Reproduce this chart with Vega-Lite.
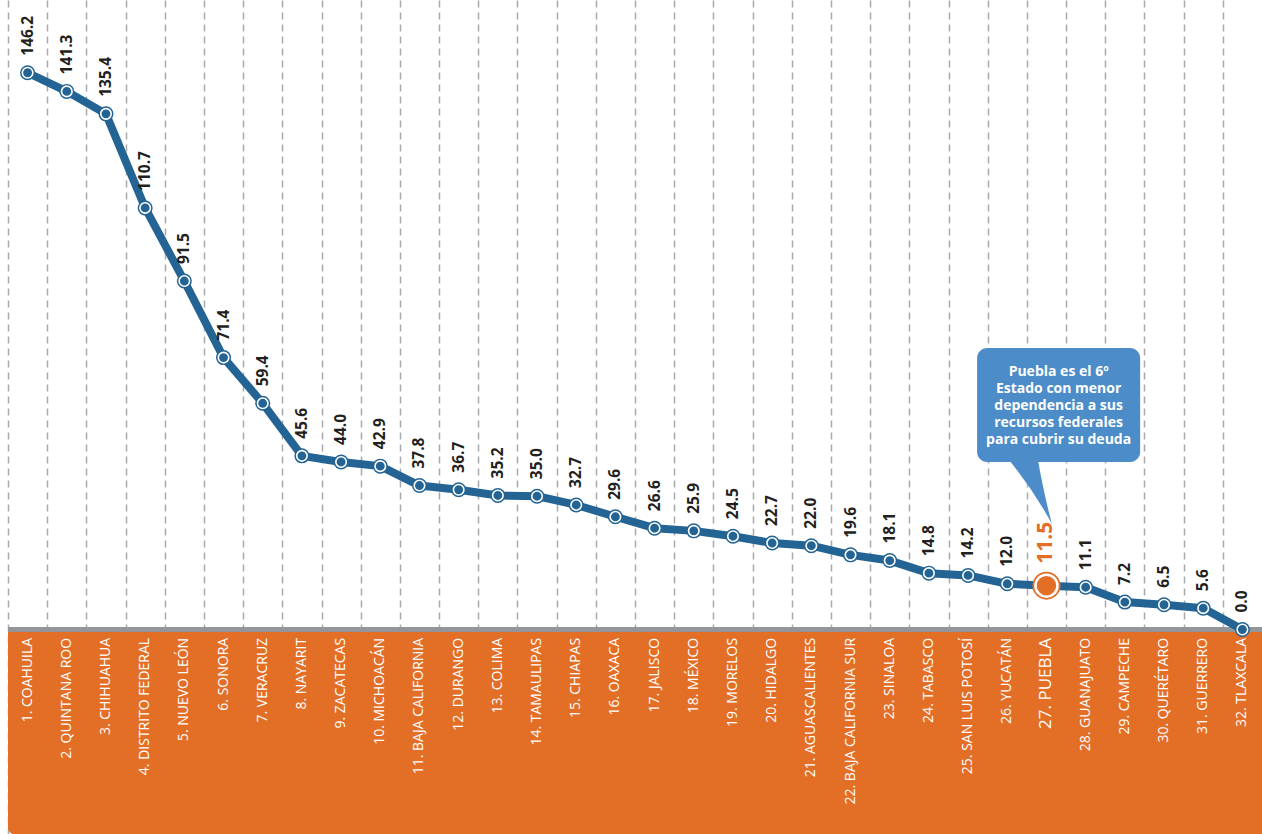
{
  "$schema": "https://vega.github.io/schema/vega-lite/v6.json",
  "width": 1254,
  "height": 834,
  "autosize": {"type": "none"},
  "padding": {"left": 8, "top": 0, "right": 0, "bottom": 0},
  "background": "white",
  "config": {"view": {"stroke": null}},
  "datasets": {
    "states": [
      {"rank": 1, "estado": "COAHUILA", "label": "1. COAHUILA", "value": 146.2},
      {"rank": 2, "estado": "QUINTANA ROO", "label": "2. QUINTANA ROO", "value": 141.3},
      {"rank": 3, "estado": "CHIHUAHUA", "label": "3. CHIHUAHUA", "value": 135.4},
      {"rank": 4, "estado": "DISTRITO FEDERAL", "label": "4. DISTRITO FEDERAL", "value": 110.7},
      {"rank": 5, "estado": "NUEVO LEÓN", "label": "5. NUEVO LEÓN", "value": 91.5},
      {"rank": 6, "estado": "SONORA", "label": "6. SONORA", "value": 71.4},
      {"rank": 7, "estado": "VERACRUZ", "label": "7. VERACRUZ", "value": 59.4},
      {"rank": 8, "estado": "NAYARIT", "label": "8. NAYARIT", "value": 45.6},
      {"rank": 9, "estado": "ZACATECAS", "label": "9. ZACATECAS", "value": 44.0},
      {"rank": 10, "estado": "MICHOACÁN", "label": "10. MICHOACÁN", "value": 42.9},
      {"rank": 11, "estado": "BAJA CALIFORNIA", "label": "11. BAJA CALIFORNIA", "value": 37.8},
      {"rank": 12, "estado": "DURANGO", "label": "12. DURANGO", "value": 36.7},
      {"rank": 13, "estado": "COLIMA", "label": "13. COLIMA", "value": 35.2},
      {"rank": 14, "estado": "TAMAULIPAS", "label": "14. TAMAULIPAS", "value": 35.0},
      {"rank": 15, "estado": "CHIAPAS", "label": "15. CHIAPAS", "value": 32.7},
      {"rank": 16, "estado": "OAXACA", "label": "16. OAXACA", "value": 29.6},
      {"rank": 17, "estado": "JALISCO", "label": "17. JALISCO", "value": 26.6},
      {"rank": 18, "estado": "MÉXICO", "label": "18. MÉXICO", "value": 25.9},
      {"rank": 19, "estado": "MORELOS", "label": "19. MORELOS", "value": 24.5},
      {"rank": 20, "estado": "HIDALGO", "label": "20. HIDALGO", "value": 22.7},
      {"rank": 21, "estado": "AGUASCALIENTES", "label": "21. AGUASCALIENTES", "value": 22.0},
      {"rank": 22, "estado": "BAJA CALIFORNIA SUR", "label": "22. BAJA CALIFORNIA SUR", "value": 19.6},
      {"rank": 23, "estado": "SINALOA", "label": "23. SINALOA", "value": 18.1},
      {"rank": 24, "estado": "TABASCO", "label": "24. TABASCO", "value": 14.8},
      {"rank": 25, "estado": "SAN LUIS POTOSÍ", "label": "25. SAN LUIS POTOSÍ", "value": 14.2},
      {"rank": 26, "estado": "YUCATÁN", "label": "26. YUCATÁN", "value": 12.0},
      {"rank": 27, "estado": "PUEBLA", "label": "27. PUEBLA", "value": 11.5},
      {"rank": 28, "estado": "GUANAJUATO", "label": "28. GUANAJUATO", "value": 11.1},
      {"rank": 29, "estado": "CAMPECHE", "label": "29. CAMPECHE", "value": 7.2},
      {"rank": 30, "estado": "QUERÉTARO", "label": "30. QUERÉTARO", "value": 6.5},
      {"rank": 31, "estado": "GUERRERO", "label": "31. GUERRERO", "value": 5.6},
      {"rank": 32, "estado": "TLAXCALA", "label": "32. TLAXCALA", "value": 0.0}
    ]
  },
  "layer": [
    {
      "data": {"name": "states"},
      "mark": {"type": "rule", "opacity": 0},
      "encoding": {
        "x": {
          "field": "rank", "type": "quantitative",
          "scale": {"domain": [0.5, 32.5], "nice": false, "zero": false},
          "axis": {
            "values": [0.5, 1.5, 2.5, 3.5, 4.5, 5.5, 6.5, 7.5, 8.5, 9.5, 10.5, 11.5, 12.5, 13.5, 14.5, 15.5, 16.5, 17.5, 18.5, 19.5, 20.5, 21.5, 22.5, 23.5, 24.5, 25.5, 26.5, 27.5, 28.5, 29.5, 30.5, 31.5],
            "grid": true, "gridDash": [7, 5], "gridColor": "#a7a9ac", "gridWidth": 1.5,
            "labels": false, "ticks": false, "domain": false, "title": null
          }
        },
        "y": {
          "field": "value", "type": "quantitative",
          "scale": {"domain": [-53.7, 165.3], "nice": false, "zero": false},
          "axis": null
        }
      }
    },
    {
      "data": {"values": [{}]},
      "mark": {"type": "rect", "color": "#e36e26", "cornerRadiusBottomLeft": 6},
      "encoding": {
        "x": {"datum": 0.5, "type": "quantitative"},
        "x2": {"datum": 32.5},
        "y": {"datum": -53.7, "type": "quantitative"},
        "y2": {"datum": -0.66}
      }
    },
    {
      "data": {"values": [{}]},
      "mark": {"type": "rule", "color": "#939598", "strokeWidth": 5},
      "encoding": {
        "x": {"datum": 0.5, "type": "quantitative"},
        "x2": {"datum": 32.5},
        "y": {"datum": 0, "type": "quantitative"}
      }
    },
    {
      "data": {"name": "states"},
      "mark": {"type": "line", "color": "#236494", "strokeWidth": 8, "strokeJoin": "round"},
      "encoding": {
        "x": {"field": "rank", "type": "quantitative"},
        "y": {"field": "value", "type": "quantitative"}
      }
    },
    {
      "data": {"name": "states"},
      "transform": [{"filter": "datum.estado !== 'PUEBLA'"}],
      "mark": {"type": "point", "shape": "circle", "filled": true, "opacity": 1, "size": 225, "color": "#236494"},
      "encoding": {
        "x": {"field": "rank", "type": "quantitative"},
        "y": {"field": "value", "type": "quantitative"}
      }
    },
    {
      "data": {"name": "states"},
      "transform": [{"filter": "datum.estado !== 'PUEBLA'"}],
      "mark": {"type": "point", "shape": "circle", "opacity": 1, "size": 110, "fill": "#236494", "stroke": "white", "strokeWidth": 1.6},
      "encoding": {
        "x": {"field": "rank", "type": "quantitative"},
        "y": {"field": "value", "type": "quantitative"}
      }
    },
    {
      "data": {"name": "states"},
      "transform": [{"filter": "datum.estado === 'PUEBLA'"}],
      "mark": {"type": "point", "shape": "circle", "filled": true, "opacity": 1, "size": 784, "color": "#e36e26"},
      "encoding": {
        "x": {"field": "rank", "type": "quantitative"},
        "y": {"field": "value", "type": "quantitative"}
      }
    },
    {
      "data": {"name": "states"},
      "transform": [{"filter": "datum.estado === 'PUEBLA'"}],
      "mark": {"type": "point", "shape": "circle", "opacity": 1, "size": 484, "fill": "#e36e26", "stroke": "white", "strokeWidth": 2.5},
      "encoding": {
        "x": {"field": "rank", "type": "quantitative"},
        "y": {"field": "value", "type": "quantitative"}
      }
    },
    {
      "data": {"name": "states"},
      "transform": [{"filter": "datum.estado !== 'PUEBLA'"}],
      "mark": {"type": "text", "angle": 270, "align": "left", "baseline": "middle", "dx": 17, "font": "Open Sans", "fontWeight": "bold", "fontSize": 15.5, "color": "#231f20"},
      "encoding": {
        "x": {"field": "rank", "type": "quantitative"},
        "y": {"field": "value", "type": "quantitative"},
        "text": {"field": "value", "type": "quantitative", "format": ".1f"}
      }
    },
    {
      "data": {"name": "states"},
      "transform": [{"filter": "datum.estado === 'PUEBLA'"}],
      "mark": {"type": "text", "angle": 270, "align": "left", "baseline": "middle", "dx": 22, "font": "Open Sans", "fontWeight": "bold", "fontSize": 21, "color": "#e36e26"},
      "encoding": {
        "x": {"field": "rank", "type": "quantitative"},
        "y": {"field": "value", "type": "quantitative"},
        "text": {"field": "value", "type": "quantitative", "format": ".1f"}
      }
    },
    {
      "data": {"name": "states"},
      "transform": [{"filter": "datum.estado !== 'PUEBLA'"}],
      "mark": {"type": "text", "angle": 270, "align": "right", "baseline": "middle", "font": "Open Sans", "fontSize": 14, "color": "white"},
      "encoding": {
        "x": {"field": "rank", "type": "quantitative"},
        "y": {"datum": -2.2, "type": "quantitative"},
        "text": {"field": "label", "type": "nominal"}
      }
    },
    {
      "data": {"name": "states"},
      "transform": [{"filter": "datum.estado === 'PUEBLA'"}],
      "mark": {"type": "text", "angle": 270, "align": "right", "baseline": "middle", "font": "Open Sans", "fontSize": 17, "color": "white"},
      "encoding": {
        "x": {"field": "rank", "type": "quantitative"},
        "y": {"datum": -2.2, "type": "quantitative"},
        "text": {"field": "label", "type": "nominal"}
      }
    },
    {
      "data": {"values": [{}]},
      "mark": {"type": "rect", "color": "#4c8cc8", "cornerRadius": 10},
      "encoding": {
        "x": {"datum": 25.23, "type": "quantitative"},
        "x2": {"datum": 29.39},
        "y": {"datum": 73.9, "type": "quantitative"},
        "y2": {"datum": 44.0}
      }
    },
    {
      "data": {"values": [{}]},
      "mark": {"type": "point", "shape": "M -0.68 -1 L 0.25 -1 Q 0.44 0.1 0.68 1 Q 0.15 0.0 -0.68 -1 Z", "filled": true, "opacity": 1, "size": 4761, "color": "#4c8cc8"},
      "encoding": {
        "x": {"datum": 26.54, "type": "quantitative"},
        "y": {"datum": 36.75, "type": "quantitative"}
      }
    },
    {
      "data": {"values": [{}]},
      "mark": {"type": "text", "text": ["Puebla es el 6º", "Estado con menor", "dependencia a sus", "recursos federales", "para cubrir su deuda"], "align": "center", "baseline": "middle", "lineHeight": 17, "font": "Open Sans", "fontWeight": "bold", "fontSize": 14, "color": "white"},
      "encoding": {
        "x": {"datum": 27.31, "type": "quantitative"},
        "y": {"datum": 67.6, "type": "quantitative"}
      }
    }
  ]
}
